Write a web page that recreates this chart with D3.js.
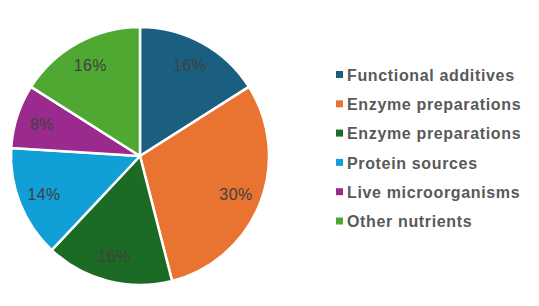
<!DOCTYPE html>
<html><head><meta charset="utf-8">
<script src="https://cdn.jsdelivr.net/npm/d3@7"></script>
<style>body{margin:0;background:#fff;}svg{display:block;}</style>
</head><body>
<svg id="c" width="539" height="306"></svg>
<script>
const categories = ["Functional additives","Enzyme preparations","Enzyme preparations","Protein sources","Live microorganisms","Other nutrients"];
const values = [16,30,16,14,8,16];
const colors = ["#1a5f80","#e97432","#1b6b24","#109fd6","#9b2a8e","#4fa832"];

const svg = d3.select("#c");
const cx = 140, cy = 156, r = 129;
const g = svg.append("g").attr("transform",`translate(${cx},${cy})`);
const pie = d3.pie().sort(null).value(d=>d)(values);
const arc = d3.arc().innerRadius(0).outerRadius(r);
const labelArc = d3.arc().innerRadius(r*0.8).outerRadius(r*0.8);
g.selectAll("path").data(pie).join("path")
  .attr("d",arc).attr("fill",(d,i)=>colors[i])
  .attr("stroke","#fff").attr("stroke-width",2.5).attr("stroke-linejoin","round");
g.selectAll("text").data(pie).join("text")
  .attr("transform",d=>`translate(${labelArc.centroid(d)})`)
  .attr("text-anchor","middle").attr("dy","0.36em")
  .attr("font-family","Liberation Sans, Arial, sans-serif").attr("font-size",16)
  .attr("letter-spacing","0.4px")
  .attr("fill","#404040")
  .text(d=>d.value+"%");

const lg = svg.append("g").attr("transform","translate(336,75)");
const items = lg.selectAll("g").data(categories).join("g")
  .attr("transform",(d,i)=>`translate(0,${i*29.3})`);
items.append("rect").attr("x",0).attr("y",-4).attr("width",7).attr("height",7)
  .attr("fill",(d,i)=>colors[i]);
items.append("text").attr("x",11).attr("dy","0.36em")
  .attr("font-family","Liberation Sans, Arial, sans-serif").attr("font-size",16)
  .attr("letter-spacing","0.65px")
  .attr("font-weight","bold").attr("fill","#595959")
  .text(d=>d);
</script>
</body></html>
